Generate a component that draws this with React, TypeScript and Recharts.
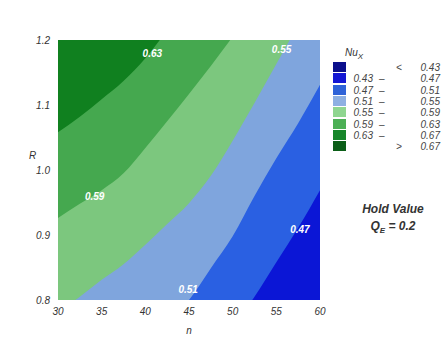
import {
  Area,
  ComposedChart,
  Label,
  ReferenceArea,
  ReferenceDot,
  XAxis,
  YAxis,
} from "recharts"

const nValues = [30, 32.5, 35, 37.5, 40, 42.5, 45, 47.5, 50, 52.5, 55, 57.5, 60]

// R of each contour edge at those n (values outside 0.8..1.2 are clipped away)
const edge063 = [1.058, 1.082, 1.109, 1.137, 1.172, 1.215, 1.26, 1.31, 1.37, 1.43, 1.5, 1.57, 1.65]
const edge059 = [0.926, 0.948, 0.969, 0.995, 1.034, 1.075, 1.117, 1.16, 1.205, 1.25, 1.3, 1.35, 1.4]
const edge055 = [0.782, 0.805, 0.831, 0.855, 0.885, 0.917, 0.949, 0.991, 1.045, 1.103, 1.163, 1.223, 1.28]
const edge051 = [0.57, 0.61, 0.65, 0.69, 0.73, 0.765, 0.8, 0.849, 0.898, 0.96, 1.018, 1.072, 1.131]
const edge047 = [0.44, 0.48, 0.52, 0.56, 0.6, 0.64, 0.68, 0.72, 0.76, 0.805, 0.858, 0.911, 0.969]

// inline contour labels
const contourLabels = [
  { n: 40.8, r: 1.18, text: "0.63" },
  { n: 55.6, r: 1.185, text: "0.55" },
  { n: 34.2, r: 0.96, text: "0.59" },
  { n: 57.7, r: 0.909, text: "0.47" },
  { n: 44.9, r: 0.816, text: "0.51" },
]

const xTicks = [30, 35, 40, 45, 50, 55, 60]
const yTicks = [0.8, 0.9, 1.0, 1.1, 1.2]

const legendLow = ["", "0.43", "0.47", "0.51", "0.55", "0.59", "0.63", ""]
const legendHigh = ["0.43", "0.47", "0.51", "0.55", "0.59", "0.63", "0.67", "0.67"]
const legendColors = [
  "#0b0f8c",
  "#1417d4",
  "#2f63d8",
  "#8eb0e2",
  "#8fd690",
  "#4caf55",
  "#17862a",
  "#0b5e18",
]

const data = nValues.map((n, i) => ({
  n,
  e63: edge063[i],
  e59: edge059[i],
  e55: edge055[i],
  e51: edge051[i],
  e47: edge047[i],
}))

const bands = [
  { key: "e63", color: "#45a84f" },
  { key: "e59", color: "#7cc77e" },
  { key: "e55", color: "#7fa5dd" },
  { key: "e51", color: "#2a60e2" },
  { key: "e47", color: "#0b16d6" },
]

const font = "'Liberation Sans', Arial, sans-serif"
const tickStyle = { fontSize: 10, fontStyle: "italic", fill: "#333", fontFamily: font }

const App = () => {
  return (
    <div style={{ position: "absolute", left: 0, top: 0, width: 445, height: 340, background: "#fff" }}>
      <ComposedChart
        width={445}
        height={340}
        data={data}
        margin={{ top: 40, right: 125, bottom: 0, left: 0 }}>
        <XAxis
          dataKey="n"
          type="number"
          domain={[30, 60]}
          ticks={xTicks}
          allowDataOverflow
          axisLine={false}
          tickLine={false}
          tickSize={0}
          tickMargin={8}
          height={40}
          tick={tickStyle}>
          <Label value="n" position="insideBottom" offset={6} style={tickStyle} />
        </XAxis>
        <YAxis
          type="number"
          domain={[0.8, 1.2]}
          ticks={yTicks}
          allowDataOverflow
          axisLine={false}
          tickLine={false}
          tickSize={0}
          tickMargin={8}
          width={58}
          tickFormatter={(v: number) => v.toFixed(1)}
          tick={tickStyle}>
          <Label value="R" position="insideLeft" offset={29} dy={-15} style={tickStyle} />
        </YAxis>
        <ReferenceArea x1={30} x2={60} y1={0.8} y2={1.2} fill="#10801f" fillOpacity={1} stroke="none" />
        {bands.map((b) => (
          <Area
            key={b.key}
            type="monotone"
            dataKey={b.key}
            baseValue="dataMin"
            fill={b.color}
            fillOpacity={1}
            stroke="none"
            isAnimationActive={false}
          />
        ))}
        {contourLabels.map((c) => (
          <ReferenceDot
            key={c.text}
            x={c.n}
            y={c.r}
            r={0}
            stroke="none"
            label={{
              value: c.text,
              position: "center",
              fill: "#fff",
              fontSize: 10,
              fontStyle: "italic",
              fontWeight: "bold",
              fontFamily: font,
            }}
          />
        ))}
      </ComposedChart>

      <div style={{ position: "absolute", left: 345, top: 47, fontFamily: font, fontSize: 10, fontStyle: "italic", color: "#333" }}>
        Nu<sub style={{ fontSize: 8 }}>X</sub>
      </div>
      {legendColors.map((c, i) => {
        const top = 62 + i * 11.3
        return (
          <div key={i} style={{ position: "absolute", left: 0, top, width: 445, height: 11, fontFamily: font, fontSize: 10, fontStyle: "italic", color: "#444", lineHeight: "11px" }}>
            <div style={{ position: "absolute", left: 333, top: 0, width: 13, height: 10, background: c }} />
            <span style={{ position: "absolute", right: 445 - 373, top: 0 }}>{legendLow[i]}</span>
            <span style={{ position: "absolute", left: i === 0 || i === 7 ? 396 : 379, top: 0 }}>
              {i === 0 ? "<" : i === 7 ? ">" : "–"}
            </span>
            <span style={{ position: "absolute", right: 445 - 440, top: 0 }}>{legendHigh[i]}</span>
          </div>
        )
      })}
      <div style={{ position: "absolute", left: 343, top: 201, width: 100, textAlign: "center", fontFamily: font, fontSize: 12, fontStyle: "italic", fontWeight: "bold", color: "#333", lineHeight: "17px" }}>
        Hold Value
        <br />
        Q<sub style={{ fontSize: 8 }}>E</sub> = 0.2
      </div>
    </div>
  )
}

export default App
